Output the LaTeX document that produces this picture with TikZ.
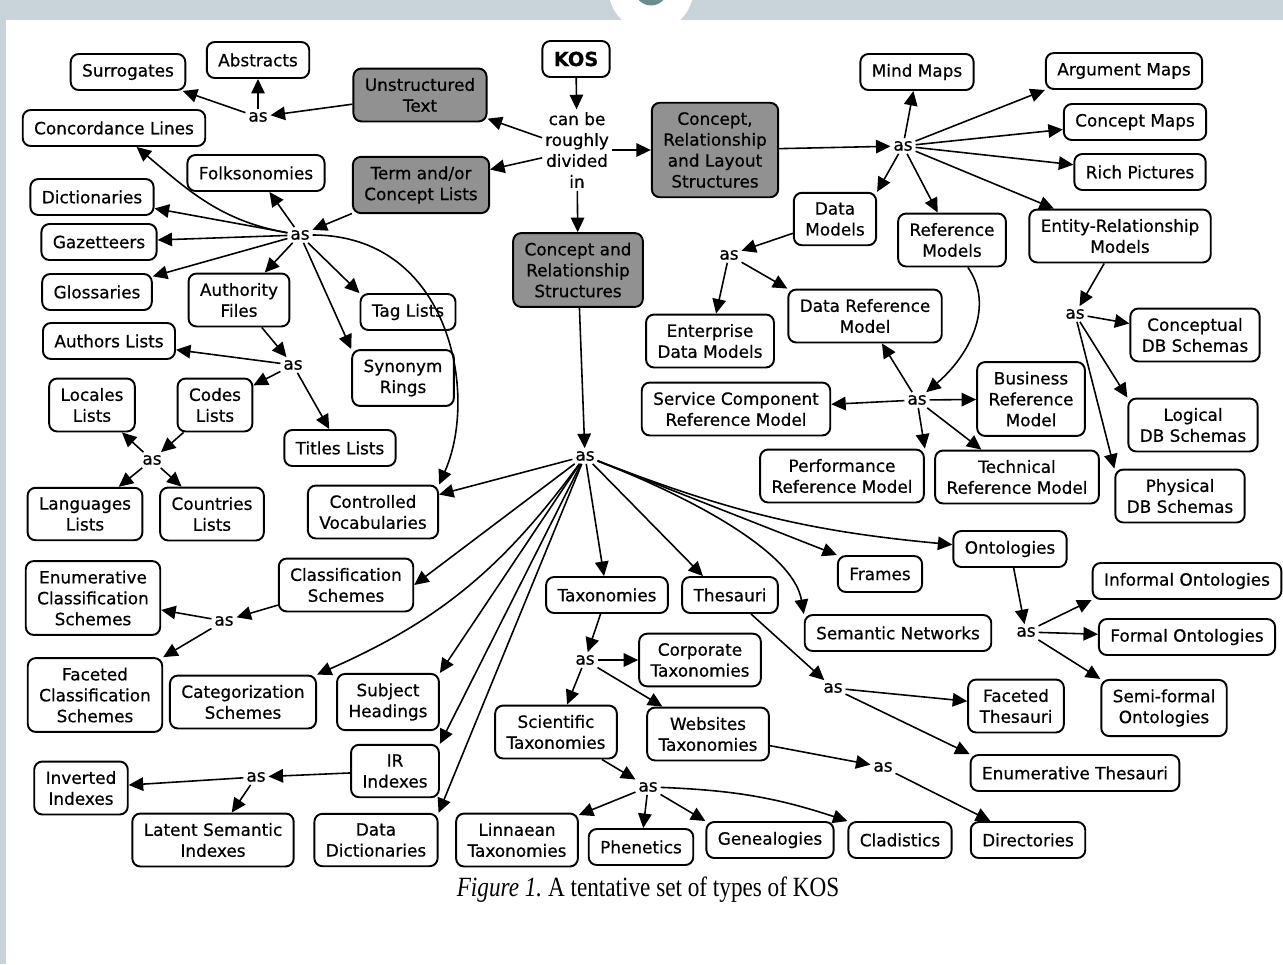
\documentclass[tikz,border=0pt]{standalone}
\usepackage{fontspec}
\setmainfont{DejaVu Sans}[FakeBold=0.6]
\newfontfamily\capfont{Liberation Serif}
\usetikzlibrary{arrows.meta}
\definecolor{bandgray}{RGB}{201,211,218}
\definecolor{boxgray}{RGB}{145,145,145}
\definecolor{dotteal}{RGB}{110,140,142}

\begin{document}
\begin{tikzpicture}[x=0.02cm,y=-0.02cm,>={Triangle[length=2.9mm,width=2.7mm]},
  box/.style={draw,line width=1.1pt,rounded corners=0.16cm,fill=white,align=center,
    inner xsep=6.5pt,inner ysep=5.4pt,minimum height=0.72cm,font=\fontsize{9.6}{11.9}\selectfont},
  gbox/.style={box,fill=boxgray},
  word/.style={inner sep=1.5pt,align=center,font=\fontsize{9.6}{11.9}\selectfont},
  link/.style={->,line width=0.9pt}]
  % page frame
  \useasboundingbox (0,0) rectangle (1283,964);
  \fill[bandgray] (0,0) rectangle (1283,964);
  \fill[white] (6,20) rectangle (1283,964);
  \fill[white] (651,-11) circle[radius=0.85cm];
  \fill[dotteal] (651,-11) circle[radius=0.33cm];

  % top level
  \node[box,font=\fontsize{11}{13}\selectfont\bfseries] (kos) at (576,59) {KOS};
  \node[word] (div) at (577,150) {can be\\roughly\\divided\\in};
  \node[gbox] (unst) at (420,95) {Unstructured\\Text};
  \node[gbox] (term) at (421,185) {Term and/or\\Concept Lists};
  \node[gbox] (crl) at (715,150) {Concept,\\Relationship\\and Layout\\Structures};
  \node[gbox] (crs) at (578,270) {Concept and\\Relationship\\Structures};

  % unstructured text
  \node[box] (sur) at (128,72) {Surrogates};
  \node[box] (abs) at (258,60) {Abstracts};
  \node[word] (as1) at (258,117) {as};
  \node[box] (con) at (114,128) {Concordance Lines};

  % term and/or concept lists
  \node[box] (fol) at (256,173) {Folksonomies};
  \node[box] (dic) at (92,197) {Dictionaries};
  \node[box] (gaz) at (99,242) {Gazetteers};
  \node[box] (glo) at (97,292) {Glossaries};
  \node[word] (as2) at (300,235) {as};
  \node[box] (auf) at (239,300) {Authority\\Files};
  \node[box] (tag) at (408,312) {Tag Lists};
  \node[box] (syn) at (403,378) {Synonym\\Rings};
  \node[box] (aul) at (109,341) {Authors Lists};
  \node[word] (as3) at (293,365) {as};
  \node[box] (cod) at (215,405) {Codes\\Lists};
  \node[box] (loc) at (92,405) {Locales\\Lists};
  \node[box] (tit) at (340,448) {Titles Lists};
  \node[word] (as4) at (152,460) {as};
  \node[box] (lan) at (85,514) {Languages\\Lists};
  \node[box] (cou) at (212,514) {Countries\\Lists};
  \node[box] (cv) at (373,512) {Controlled\\Vocabularies};

  % concept and relationship structures
  \node[word] (asm) at (585,456) {as};
  \node[box] (cls) at (346,585) {Classification\\Schemes};
  \node[box] (enc) at (93,598) {Enumerative\\Classification\\Schemes};
  \node[word] (as5) at (224,621) {as};
  \node[box] (fac) at (95,695) {Faceted\\Classification\\Schemes};
  \node[box] (cat) at (243,702) {Categorization\\Schemes};
  \node[box] (sub) at (388,702) {Subject\\Headings};
  \node[box] (ir) at (395,771) {IR\\Indexes};
  \node[word] (as6) at (256,777) {as};
  \node[box] (inv) at (81,788) {Inverted\\Indexes};
  \node[box] (lsi) at (213,840) {Latent Semantic\\Indexes};
  \node[box] (dd) at (376,840) {Data\\Dictionaries};
  \node[box] (lin) at (517,840) {Linnaean\\Taxonomies};
  \node[box] (tax) at (607,595) {Taxonomies};
  \node[box] (the) at (730,595) {Thesauri};
  \node[word] (as7) at (585,660) {as};
  \node[box] (cor) at (700,660) {Corporate\\Taxonomies};
  \node[box] (sci) at (556,732) {Scientific\\Taxonomies};
  \node[box] (web) at (708,734) {Websites\\Taxonomies};
  \node[word] (as8) at (648,787) {as};
  \node[box] (phe) at (641,847) {Phenetics};
  \node[box] (gen) at (770,840) {Genealogies};
  \node[box] (cla) at (900,840) {Cladistics};
  \node[box] (dir) at (1028,840) {Directories};
  \node[word] (as9) at (883,767) {as};
  \node[box] (fra) at (880,574) {Frames};
  \node[box] (ont) at (1010,549) {Ontologies};
  \node[box] (sem) at (898,633) {Semantic Networks};
  \node[word] (as10) at (833,688) {as};
  \node[box] (fth) at (1016,706) {Faceted\\Thesauri};
  \node[box] (eth) at (1075,773) {Enumerative Thesauri};
  \node[word] (as11) at (1026,632) {as};
  \node[box] (inf) at (1187,581) {Informal Ontologies};
  \node[box] (for) at (1187,637) {Formal Ontologies};
  \node[box] (sfo) at (1164,708) {Semi-formal\\Ontologies};

  % concept, relationship and layout structures
  \node[box] (mm) at (917,72) {Mind Maps};
  \node[box] (am) at (1124,71) {Argument Maps};
  \node[box] (cm) at (1135,122) {Concept Maps};
  \node[box] (rp) at (1140,172) {Rich Pictures};
  \node[word] (as12) at (903,146) {as};
  \node[box] (dm) at (835,219) {Data\\Models};
  \node[box] (rm) at (952,240) {Reference\\Models};
  \node[box] (er) at (1120,236) {Entity-Relationship\\Models};
  \node[word] (as13) at (729,255) {as};
  \node[box] (edm) at (710,341) {Enterprise\\Data Models};
  \node[box] (drm) at (865,316) {Data Reference\\Model};
  \node[word] (as14) at (917,400) {as};
  \node[box] (scr) at (736,409) {Service Component\\Reference Model};
  \node[box] (brm) at (1031,399) {Business\\Reference\\Model};
  \node[box] (prm) at (842,476) {Performance\\Reference Model};
  \node[box] (trm) at (1017,477) {Technical\\Reference Model};
  \node[word] (as15) at (1075,314) {as};
  \node[box] (cdb) at (1195,335) {Conceptual\\DB Schemas};
  \node[box] (ldb) at (1193,425) {Logical\\DB Schemas};
  \node[box] (pdb) at (1180,496) {Physical\\DB Schemas};

  \node (cap) at (648,890) {\capfont\fontsize{13.2}{15}\selectfont\scalebox{1}[1.2]{\itshape Figure 1.\upshape\ A tentative set of types of KOS}};

  % links
  \draw[link] (kos) -- (div);
  \foreach \t in {unst,term,crl,crs} \draw[link] (div) -- (\t);

  \draw[link] (unst) -- (as1);
  \foreach \t in {sur,abs} \draw[link] (as1) -- (\t);

  \draw[link] (term) -- (as2);
  \foreach \t in {fol,dic,gaz,glo,auf,tag.north west,syn.north west} \draw[link] (as2) -- (\t);
  \draw[link] (as2) to[out=170,in=-40] (con);
  \draw[link] (as2) .. controls +(150,0) and +(40,-90) .. (cv.north east);
  \draw[link] (auf) -- (as3);
  \foreach \t in {aul,cod,tit} \draw[link] (as3) -- (\t);
  \draw[link] (cod) -- (as4);
  \foreach \t in {loc,lan,cou} \draw[link] (as4) -- (\t);

  \draw[link] (crs) -- (asm);
  \foreach \t in {cv,cls.east,sub.north east,ir.north east,dd.north east,tax,the.145,fra.north west}
    \draw[link] (asm) -- (\t);
  \draw[link] (asm) to[bend left=15] (cat.north east);
  \draw[link] (asm) .. controls +(115,45) and +(-10,-60) .. (sem.north west);
  \draw[link] (asm) to[bend right=8] (ont);

  \draw[link] (cls) -- (as5);
  \foreach \t in {enc,fac.north east} \draw[link] (as5) -- (\t);
  \draw[link] (ir) -- (as6);
  \foreach \t in {inv,lsi} \draw[link] (as6) -- (\t);
  \draw[link] (tax) -- (as7);
  \foreach \t in {cor,sci,web} \draw[link] (as7) -- (\t);
  \draw[link] (sci) -- (as8);
  \foreach \t in {lin,phe,gen.north west} \draw[link] (as8) -- (\t);
  \draw[link] (as8) to[bend left=8] (cla.north west);
  \draw[link] (web) -- (as9);
  \draw[link] (as9) -- (dir);
  \draw[link] (the) -- (as10);
  \foreach \t in {fth,eth.north west} \draw[link] (as10) -- (\t);
  \draw[link] (ont) -- (as11);
  \foreach \t in {inf.south west,for,sfo.north west} \draw[link] (as11) -- (\t);

  \draw[link] (crl) -- (as12);
  \foreach \t in {mm,am.south west,cm,rp,er,dm.north east,rm} \draw[link] (as12) -- (\t);
  \draw[link] (dm) -- (as13);
  \foreach \t in {edm,drm.north west} \draw[link] (as13) -- (\t);
  \draw[link] (rm.-60) .. controls +(27,38) and +(53,-45) .. (as14);
  \foreach \t in {drm,scr,brm,prm.north east,trm} \draw[link] (as14) -- (\t);
  \draw[link] (er) -- (as15);
  \foreach \t in {cdb,ldb.north west,pdb.north west} \draw[link] (as15) -- (\t);
\end{tikzpicture}
\end{document}
